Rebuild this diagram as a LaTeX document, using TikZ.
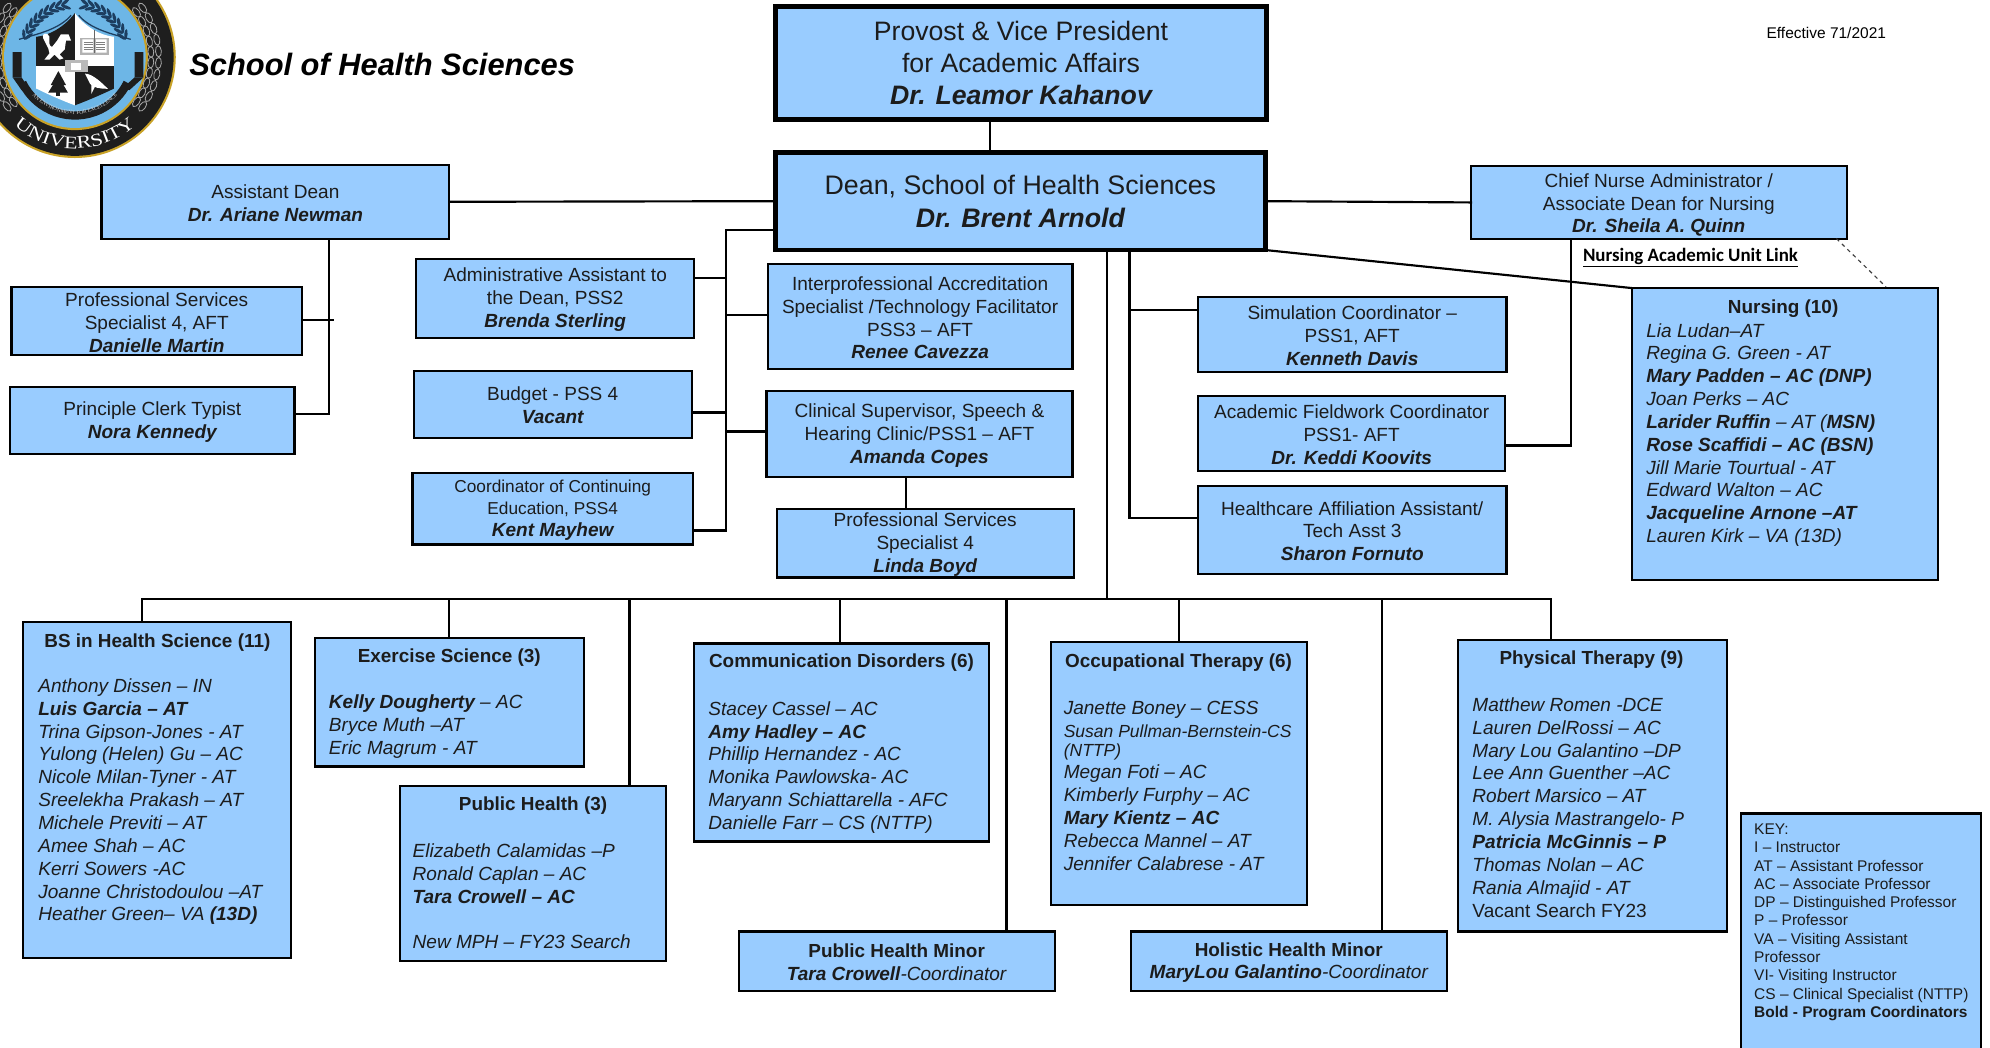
\documentclass[tikz,border=0pt]{standalone}
\usepackage{fontspec}
\setmainfont{Liberation Sans}
\newfontfamily\calibrifont{Carlito}
\newfontfamily\sealfont{Liberation Serif}
\newfontfamily\sealwide[FakeStretch=1.25]{Liberation Serif}
\usetikzlibrary{calc,decorations.text}
\definecolor{boxblue}{HTML}{99CCFF}
\definecolor{inktext}{HTML}{1C1C1C}
\definecolor{sealblue}{HTML}{6DB6E6}
\definecolor{sealgold}{HTML}{C9A227}
\definecolor{sealdark}{HTML}{1E1E1E}
\definecolor{sealnavy}{HTML}{1D3E60}
\tikzset{
  x=1pt,y=-1pt,
  box/.style={draw=black,fill=boxblue,line width=1.7pt,inner sep=0pt,outer sep=0pt},
  heavybox/.style={box,line width=3.6pt},
  boxtext/.style={inner sep=0pt,align=center,text=inktext,font=\fontsize{15}{18}\selectfont},
  wire/.style={draw=black,line width=1.7pt,line cap=rect},
  listtext/.style={align=left,inner sep=0pt,anchor=north west,text=inktext,
    font=\fontsize{15}{18}\selectfont\itshape},
  headtext/.style={inner sep=0pt,text=inktext,font=\fontsize{14.9}{18}\selectfont\bfseries},
}
\newcommand{\bx}[6][box]{\node[#1,minimum width={#5pt-#3pt},minimum height={#6pt-#4pt}] (#2) at ({(#3+#5)/2},{(#4+#6)/2}) {};}
\newcommand{\boxcap}[3][]{\node[boxtext,#1] (#2-text) at ($(#2.center)+(0,1)$) {#3};}
\newcommand{\nm}[1]{{\bfseries\itshape #1}}
\begin{document}
\begin{tikzpicture}
\useasboundingbox (0,0) rectangle (1568,825.7);
\fill[white] (0,0) rectangle (1568,825.7);

% ---- seal ----
\begin{scope}
\clip (0,0) rectangle (160,130);
\begin{scope}[shift={(59,45)}]
\fill[sealgold] (0,0) circle[radius=79.5pt];
\fill[sealdark] (0,0) circle[radius=77.8pt];
\fill[sealgold] (0,0) circle[radius=57.5pt];
\fill[sealblue] (0,0) circle[radius=55.8pt];
% laurel wreaths
\foreach \a in {-36,-28,...,36}{
  \foreach \r in {60,66}{
    \draw[gray!70,line width=.65pt,shift={(\a:\r pt)},rotate=\a+90] (0,0) ellipse[x radius=4.4pt,y radius=2.3pt];
    \draw[gray!70,line width=.65pt,shift={(180+\a:\r pt)},rotate=\a+90] (0,0) ellipse[x radius=4.4pt,y radius=2.3pt];
  }}
% top branches
\foreach \a in {100,107,...,156}{
  \fill[sealnavy,shift={(\a:44pt)},rotate=\a-60] (0,0) ellipse[x radius=4.2pt,y radius=1.3pt];
  \fill[sealnavy,shift={(\a:40pt)},rotate=\a+60] (0,0) ellipse[x radius=4.2pt,y radius=1.3pt];
  \fill[sealnavy,shift={(180-\a:44pt)},rotate=-\a+60] (0,0) ellipse[x radius=4.2pt,y radius=1.3pt];
  \fill[sealnavy,shift={(180-\a:40pt)},rotate=-\a-60] (0,0) ellipse[x radius=4.2pt,y radius=1.3pt];
}
\draw[sealnavy,line width=1pt] (-44,-14) .. controls (-30,-18) and (-12,-22) .. (-3,-33);
\draw[sealnavy,line width=1pt] (44,-14) .. controls (30,-18) and (12,-22) .. (3,-33);
% ribbons
\draw[sealdark,line width=6.5pt] (206:46pt) arc[start angle=206,end angle=334,radius=46pt];
\fill[sealdark] (-49,-4) rectangle (-42,16) (47,-4) rectangle (54,16);
\fill[sealdark] (-49,16) -- (-42,16) -- (-36,25) -- (-42,26) -- cycle;
\fill[sealdark] (54,16) -- (47,16) -- (37,25) -- (43,26) -- cycle;
% shield
\begin{scope}
\path[clip] (0,-34.7) .. controls (-8,-24) and (-20,-17) .. (-30.5,-16) -- (-30.5,24.7) .. controls (-20,30) and (-8,35) .. (0,38) .. controls (8,35) and (20,30) .. (31,24.7) -- (31,-16) .. controls (20,-17) and (8,-24) .. (0,-34.7) -- cycle;
\fill[sealdark] (-32,-36) rectangle (0,6.8);
\fill[white] (0,-36) rectangle (32,6.8);
\fill[white] (-32,6.8) rectangle (0,40);
\fill[sealdark] (0,6.8) rectangle (32,40);
\end{scope}
% lion
\fill[white] (-25,-15) .. controls (-27,-19) and (-21,-20) .. (-20,-16) .. controls (-20,-12) and (-21,-9) .. (-18,-8)
  -- (-14,-13) -- (-11,-18) -- (-5,-18) -- (-3,-13) -- (-7,-13) -- (-8,-6) -- (-12,-2) -- (-9,1) -- (-12,2) -- (-16,-2) -- (-20,2) -- (-24,2) -- (-20,-3) -- (-21,-7) -- cycle;
% book
\fill[gray!60] (4,-15) rectangle (27,-2);
\fill[white] (6,-14) rectangle (14.5,-3.5) (16.5,-14) rectangle (25,-3.5);
\foreach \yy in {-12,-10,...,-5}{\draw[gray,line width=.35pt] (7,\yy) -- (14,\yy) (17,\yy) -- (24,\yy);}
\draw[gray!80!black,line width=1pt] (15.5,-21) -- (15.5,-3);
% tree
\fill[sealdark] (-13,11) -- (-7,22) -- (-19,22) -- cycle;
\fill[sealdark] (-13,15) -- (-5.5,28) -- (-21,28) -- cycle;
\fill[sealdark] (-14.5,27) rectangle (-11.5,31);
% bird
\fill[white] (8,13) .. controls (14,13) and (22,21) .. (26,25) .. controls (20,25) and (14,24) .. (12,21) -- (10,17) -- cycle;
\fill[white] (13,22) -- (13,29) -- (16,23) -- cycle;
% centre crest
\fill[gray!55] (-8,2) rectangle (10,12);
\fill[white] (-3,5) rectangle (5,10);
% seal lettering
\path[decorate,decoration={text along path,text align=center,text={|\fontsize{4.2}{5}\sealfont\color{white!85!black}|AN ENVIRONMENT FOR EXCELLENCE}}]
  (208:45pt) arc[start angle=208,end angle=332,radius=45pt];
\path[decorate,decoration={text along path,text align=center,text={|\fontsize{14}{16}\sealwide\color{white}|UNIVERSITY}}]
  (205:72pt) arc[start angle=205,end angle=335,radius=72pt];
\path[decorate,decoration={text along path,text align=center,text={|\fontsize{15}{16}\sealfont\color{white}|STOCKTON}}]
  (150:58.5pt) arc[start angle=150,end angle=30,radius=58.5pt];
\end{scope}
\end{scope}

\node[inner sep=0pt,anchor=west,text=black,font=\fontsize{24.3}{28}\selectfont\bfseries\itshape] (title) at (149,51) {School of Health Sciences};
\node[inner sep=0pt,text=black,font=\fontsize{12.2}{14}\selectfont] (effective) at (1439,26) {Effective 71/2021};

% ---- junctions ----
\coordinate (jDrop) at (780,0);
\coordinate (jAdean) at (259,0);
\coordinate (jPsd) at (262,252);
\coordinate (jClerk) at (259,326);
\coordinate (jLtop) at (572,181);
\coordinate (jLbot) at (572,418);
\coordinate (jStem) at (872,472);
\coordinate (jSide) at (890,408);
\coordinate (jField) at (1238,351);
\coordinate (jClin) at (714,0);
\coordinate (jBusL) at (112,472);
\coordinate (jBusR) at (1222,472);
\coordinate (jEx) at (354,472);
\coordinate (jPh) at (496,472);
\coordinate (jCo) at (662,472);
\coordinate (jPhm) at (793,472);
\coordinate (jOt) at (929,472);
\coordinate (jHhm) at (1089,472);
\coordinate (jDashA) at (1447,188);
\coordinate (jDashB) at (1486,226);

% ---- boxes ----
\bx[heavybox]{prov}{611}{5}{998}{94}
\bx[heavybox]{dean}{611}{120}{997}{197}
\bx{adean}{80}{130}{354}{188}
\bx{chief}{1159}{131}{1455}{188}
\bx{psd}{9}{226}{238}{280}
\bx{clerk}{8}{305}{232}{358}
\bx{aa}{328}{204}{547}{266}
\bx{budget}{326}{292}{545}{345}
\bx{cont}{325}{373}{546}{429}
\bx{inter}{605}{208}{845}{291}
\bx{clin}{604}{308}{845}{376}
\bx{linda}{612}{401}{846}{455}
\bx{sim}{944}{234}{1187}{293}
\bx{field}{944}{312}{1186}{371}
\bx{hca}{944}{383}{1187}{452}
\bx{nursing}{1286}{227}{1527}{457}
\bx{bs}{18}{490}{229}{755}
\bx{ex}{248}{503}{460}{604}
\bx{ph}{315}{619}{525}{757}
\bx{comm}{547}{507}{779}{663}
\bx{ot}{828}{506}{1030}{713}
\bx{pt}{1149}{504}{1361}{734}
\bx{phm}{582}{734}{831}{781}
\bx{hhm}{891}{734}{1140}{781}
\bx{key}{1372}{641}{1561}{830}

% ---- captions ----
\node[boxtext,font=\fontsize{21}{25}\selectfont] (provT) at (prov) {Provost \& Vice President\\for Academic Affairs\\\nm{Dr. Leamor Kahanov}};
\node[boxtext,font=\fontsize{21.1}{26}\selectfont] (deanT) at (dean) {Dean, School of Health Sciences\\\nm{Dr. Brent Arnold}};
\boxcap{adean}{Assistant Dean\\\nm{Dr. Ariane Newman}}
\boxcap[yshift=-1pt]{chief}{Chief Nurse Administrator /\\Associate Dean for Nursing\\\nm{Dr. Sheila A. Quinn}}
\boxcap{psd}{Professional Services\\Specialist 4, AFT\\\nm{Danielle Martin}}
\boxcap{clerk}{Principle Clerk Typist\\\nm{Nora Kennedy}}
\boxcap{aa}{Administrative Assistant to\\the Dean, PSS2\\\nm{Brenda Sterling}}
\boxcap{budget}{Budget - PSS 4\\\nm{Vacant}}
\boxcap[font=\fontsize{13.6}{17}\selectfont]{cont}{Coordinator of Continuing\\Education, PSS4\\{\fontsize{15}{17}\selectfont\nm{Kent Mayhew}}}
\boxcap{inter}{Interprofessional Accreditation\\Specialist /Technology Facilitator\\PSS3 – AFT\\\nm{Renee Cavezza}}
\boxcap{clin}{Clinical Supervisor, Speech \&\\Hearing Clinic/PSS1 – AFT\\\nm{Amanda Copes}}
\boxcap{linda}{Professional Services\\Specialist 4\\\nm{Linda Boyd}}
\boxcap{sim}{Simulation Coordinator –\\PSS1, AFT\\\nm{Kenneth Davis}}
\boxcap{field}{Academic Fieldwork Coordinator\\PSS1- AFT\\\nm{Dr. Keddi Koovits}}
\boxcap{hca}{Healthcare Affiliation Assistant/\\Tech Asst 3\\\nm{Sharon Fornuto}}
\boxcap{phm}{{\fontsize{14.9}{18}\selectfont\bfseries Public Health Minor}\\\nm{Tara Crowell}{\itshape -Coordinator}}
\boxcap{hhm}{{\fontsize{14.9}{18}\selectfont\bfseries Holistic Health Minor}\\\nm{MaryLou Galantino}{\itshape -Coordinator}}

% ---- wires ----
\draw[wire] (prov.south -| jDrop) -- (dean.north -| jDrop);
\draw[wire] (adean.east) -- (dean.west);
\draw[wire] (dean.east) -- (chief.west);
\draw[wire] (dean.south east) -- (nursing.north west);
\draw[wire] (adean.south -| jAdean) -- (jClerk) -- (clerk.east |- jClerk);
\draw[wire] (psd.east |- jPsd) -- (jPsd);
\draw[wire] (dean.west |- jLtop) -- (jLtop) -- (jLbot) -- (cont.east |- jLbot);
\draw[wire] (aa.east |- 572,219) -- (572,219);
\draw[wire] (budget.east |- 572,325) -- (572,325);
\draw[wire] (inter.west |- 572,248) -- (572,248);
\draw[wire] (clin.west |- 572,340) -- (572,340);
\draw[wire] (clin.south -| jClin) -- (linda.north -| jClin);
\draw[wire] (dean.south -| jStem) -- (jStem);
\draw[wire] (dean.south -| jSide) -- (jSide) -- (hca.west |- jSide);
\draw[wire] (sim.west |- 890,244) -- (890,244);
\draw[wire] (chief.south -| jField) -- (jField) -- (field.east |- jField);
\draw[wire,dashed,line width=.9pt,draw=black!75,line cap=butt] (jDashA) -- (jDashB);
\draw[wire] (jBusL) -- (jBusR);
\draw[wire] (jBusL) -- (bs.north -| jBusL);
\draw[wire] (jEx) -- (ex.north -| jEx);
\draw[wire] (jPh) -- (ph.north -| jPh);
\draw[wire] (jCo) -- (comm.north -| jCo);
\draw[wire] (jPhm) -- (phm.north -| jPhm);
\draw[wire] (jOt) -- (ot.north -| jOt);
\draw[wire] (jHhm) -- (hhm.north -| jHhm);
\draw[wire] (jBusR) -- (pt.north -| jBusR);

\node[inner sep=0pt,text=black,font=\fontsize{14.9}{16}\calibrifont\bfseries] (nlink) at (1332,203) {\underline{Nursing Academic Unit Link}};

% ---- column texts ----
\node[headtext] (nursingH) at (1405,243) {Nursing (10)};
\node[listtext] (nursingL) at (1297,254.5) {Lia Ludan–AT\\Regina G. Green - AT\\\nm{Mary Padden – AC (DNP)}\\Joan Perks – AC\\\nm{Larider Ruffin} – AT (\nm{MSN)}\\\nm{Rose Scaffidi – AC (BSN)}\\Jill Marie Tourtual - AT\\Edward Walton – AC\\\nm{Jacqueline Arnone –AT}\\Lauren Kirk – VA (13D)};

\node[headtext] (bsH) at (124,506) {BS in Health Science (11)};
\node[listtext] (bsL) at (30,534.5) {Anthony Dissen – IN\\\nm{Luis Garcia – AT}\\Trina Gipson-Jones - AT\\Yulong (Helen) Gu – AC\\Nicole Milan-Tyner - AT\\Sreelekha Prakash – AT\\Michele Previti – AT\\Amee Shah – AC\\Kerri Sowers -AC\\Joanne Christodoulou –AT\\Heather Green– VA \nm{(13D)}};

\node[headtext] (exH) at (354,518) {Exercise Science (3)};
\node[listtext] (exL) at (259,547.5) {\nm{Kelly Dougherty} – AC\\Bryce Muth –AT\\Eric Magrum - AT};

\node[headtext] (phH) at (420,635) {Public Health (3)};
\node[listtext] (phL) at (325,664.5) {Elizabeth Calamidas –P\\Ronald Caplan – AC\\\nm{Tara Crowell – AC}\\[18pt]New MPH – FY23 Search};

\node[headtext] (commH) at (663,522) {Communication Disorders (6)};
\node[listtext] (commL) at (558,552.5) {Stacey Cassel – AC\\\nm{Amy Hadley – AC}\\Phillip Hernandez - AC\\Monika Pawlowska- AC\\Maryann Schiattarella - AFC\\Danielle Farr – CS (NTTP)};

\node[headtext,anchor=west] (otH) at (839,522) {Occupational Therapy (6)};
\node[listtext] (otL) at (838,552.5) {Janette Boney – CESS\\{\fontsize{13.8}{18}\selectfont Susan Pullman-Bernstein-CS}\\[-3.5pt]{\fontsize{13.8}{18}\selectfont (NTTP)}\\Megan Foti – AC\\Kimberly Furphy – AC\\\nm{Mary Kientz – AC}\\Rebecca Mannel – AT\\Jennifer Calabrese - AT};

\node[headtext] (ptH) at (1254,520) {Physical Therapy (9)};
\node[listtext] (ptL) at (1160,549.5) {Matthew Romen -DCE\\Lauren DelRossi – AC\\Mary Lou Galantino –DP\\Lee Ann Guenther –AC\\Robert Marsico – AT\\M. Alysia Mastrangelo- P\\\nm{Patricia McGinnis – P}\\Thomas Nolan – AC\\Rania Almajid - AT\\{\upshape Vacant Search FY23}};

\node[listtext,font=\fontsize{12.2}{14.4}\selectfont] (keyL) at (1382,649) {KEY:\\I – Instructor\\AT – Assistant Professor\\AC – Associate Professor\\DP – Distinguished Professor\\P – Professor\\VA – Visiting Assistant\\Professor\\VI- Visiting Instructor\\CS – Clinical Specialist (NTTP)\\{\bfseries Bold - Program Coordinators}};
\end{tikzpicture}
\end{document}
